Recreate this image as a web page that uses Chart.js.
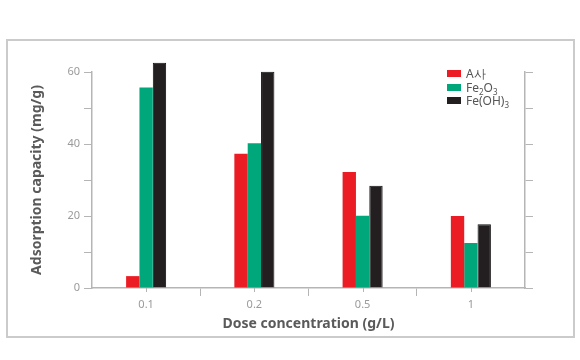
<!DOCTYPE html>
<html>
<head>
<meta charset="utf-8">
<script src="https://cdn.jsdelivr.net/npm/chart.js@4/dist/chart.umd.min.js"></script>
<style>
  html, body { margin: 0; padding: 0; background: #fff; }
  #wrap { position: relative; width: 580px; height: 360px; }
  #frame { position: absolute; left: 6px; top: 39px; width: 565px; height: 295px; border: 2px solid #cbcbcb; pointer-events: none; }
  #legend { position: absolute; left: 447px; top: 67px; font-family: "Noto Sans", sans-serif; font-size: 12px; color: #555; }
  .li { height: 13.5px; display: flex; align-items: center; white-space: nowrap; }
  .sw { width: 14px; height: 7px; margin-right: 5px; }
  sub { font-size: 8px; vertical-align: -3px; line-height: 0; }
</style>
</head>
<body>
<div id="wrap">
  <canvas id="c" width="580" height="360"></canvas>
  <div id="frame"></div>
  <div id="legend"></div>
</div>
<script>
const categories = ["0.1", "0.2", "0.5", "1"];
const seriesA = [3.3, 37.3, 32.2, 20.0];
const seriesFe2O3 = [55.7, 40.2, 20.1, 12.5];
const seriesFeOH3 = [62.6, 60.1, 28.4, 17.7];
const seriesNames = ["A사", "Fe2O3", "Fe(OH)3"];
const seriesLegendHtml = ["A사", "Fe<sub>2</sub>O<sub>3</sub>", "Fe(OH)<sub>3</sub>"];
const seriesColors = ["#ec1c24", "#00a77b", "#231f20"];
const yTicksLabelled = [0, 20, 40, 60];

const axisGray = "#b5b5b5";
const tickFont = { family: "Noto Sans", size: 11 };
const titleFont = { family: "Noto Sans", size: 14, weight: "bold" };

const values = [seriesA, seriesFe2O3, seriesFeOH3];
const datasets = values.map((v, i) => ({
  label: seriesNames[i],
  data: v,
  backgroundColor: seriesColors[i],
  borderColor: i === 2 ? "#111" : seriesColors[i],
  borderWidth: i === 2 ? 1 : 0,
  categoryPercentage: 0.37,
  barPercentage: 1.0,
  clip: false
}));

// HTML legend built from the series
const leg = document.getElementById("legend");
seriesLegendHtml.forEach((h, i) => {
  const d = document.createElement("div");
  d.className = "li";
  d.innerHTML = '<span class="sw" style="background:' + seriesColors[i] + '"></span><span>' + h + '</span>';
  leg.appendChild(d);
});

const xGridColor = (ctx) => (ctx.type === "tick" && ctx.index > 0) ? axisGray : "rgba(0,0,0,0)";

const centerTicks = {
  id: "centerTicks",
  afterDraw(chart) {
    const x = chart.scales.x;
    const c = chart.ctx;
    c.save();
    c.strokeStyle = axisGray;
    c.lineWidth = 1;
    x.ticks.forEach((t, i) => {
      const px = Math.round(x.getPixelForTick(i)) + 0.5;
      c.beginPath();
      c.moveTo(px, x.top);
      c.lineTo(px, x.top + 4);
      c.stroke();
    });
    c.restore();
  }
};

new Chart(document.getElementById("c"), {
  type: "bar",
  data: { labels: categories, datasets },
  options: {
    responsive: false,
    animation: false,
    devicePixelRatio: 1,
    layout: { padding: { left: 20, right: 35, top: 72, bottom: 20 } },
    plugins: { legend: { display: false }, tooltip: { enabled: false } },
    scales: {
      x: {
        offset: true,
        afterFit: (s) => { s.height = 52; },
        grid: { offset: true, drawOnChartArea: false, drawTicks: true, tickLength: 8, color: xGridColor, lineWidth: 1 },
        border: { display: true, color: axisGray, width: 1.5 },
        ticks: { color: "#9a9a9a", font: tickFont, padding: 2 },
        title: { display: true, text: "Dose concentration (g/L)", color: "#5a5a5a", font: titleFont, padding: { top: 0, bottom: 8 } }
      },
      y: {
        min: 0, max: 60,
        afterFit: (s) => { s.width = 72; },
        grid: { drawOnChartArea: false, drawTicks: true, tickLength: 8, color: axisGray },
        border: { display: true, color: axisGray, width: 1.5 },
        ticks: {
          stepSize: 10, color: "#9a9a9a", font: tickFont, padding: 4,
          callback: (v) => yTicksLabelled.includes(v) ? String(v) : ""
        },
        title: { display: true, text: "Adsorption capacity (mg/g)", color: "#5a5a5a", font: titleFont, padding: { top: 9, bottom: 0 } }
      },
      y2: {
        position: "right",
        min: 0, max: 60,
        afterFit: (s) => { s.width = 20; },
        grid: { drawOnChartArea: false, drawTicks: true, tickLength: 8, color: axisGray },
        border: { display: true, color: axisGray, width: 1.5 },
        ticks: { stepSize: 10, display: true, callback: () => "", padding: 0 }
      }
    }
  },
  plugins: [centerTicks]
});
</script>
</body>
</html>
